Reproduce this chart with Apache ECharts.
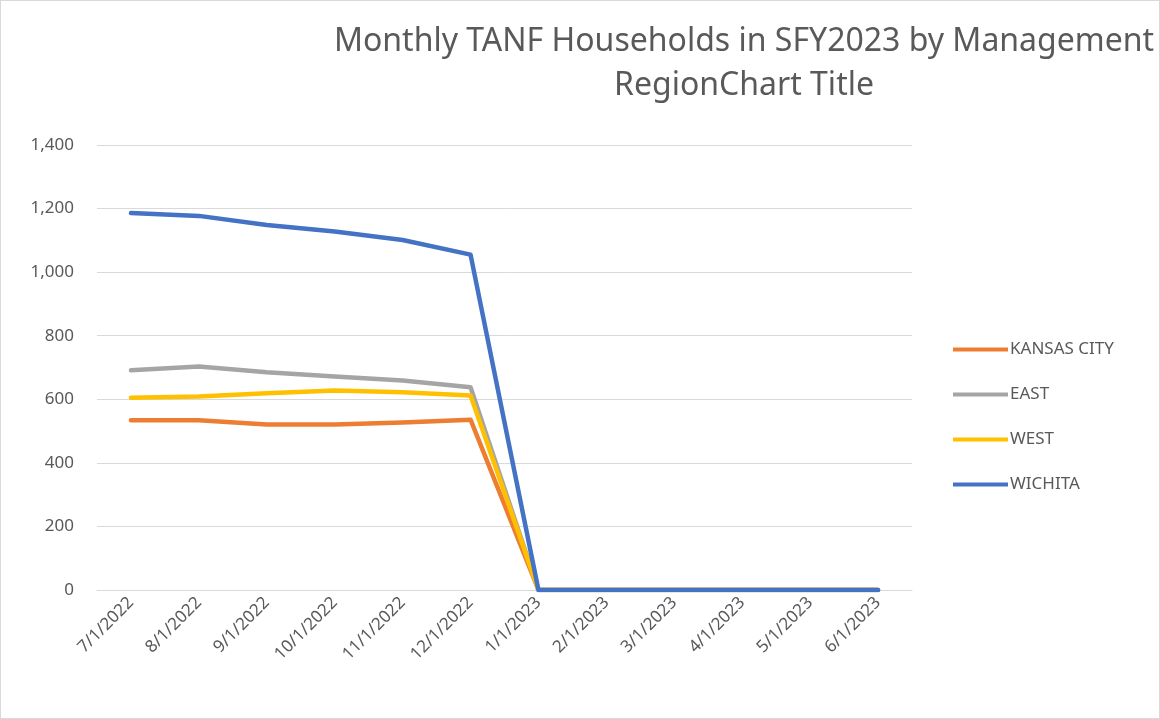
<!DOCTYPE html>
<html><head><meta charset="utf-8">
<script src="https://cdn.jsdelivr.net/npm/echarts@6/dist/echarts.min.js"></script>
<style>html,body{margin:0;padding:0;background:#fff}#c{width:1158px;height:717px;border:1px solid #d9d9d9}</style>
</head><body><div id="c"></div>
<script>
const categories = ['7/1/2022','8/1/2022','9/1/2022','10/1/2022','11/1/2022','12/1/2022','1/1/2023','2/1/2023','3/1/2023','4/1/2023','5/1/2023','6/1/2023'];
const kansasCity = [534, 534, 521, 521, 527, 536, 0, 0, 0, 0, 0, 0];
const east = [691, 703, 685, 672, 659, 638, 0, 0, 0, 0, 0, 0];
const west = [605, 609, 619, 628, 622, 612, 0, 0, 0, 0, 0, 0];
const wichita = [1186, 1177, 1148, 1128, 1101, 1055, 0, 0, 0, 0, 0, 0];
const yTicks = [0, 200, 400, 600, 800, 1000, 1200, 1400];

const font = 'Noto Sans';
const chart = echarts.init(document.getElementById('c'));
const mk = (name, data, color) => ({
  name, type: 'line', data, symbol: 'none', smooth: false,
  lineStyle: { color, width: 4.5, cap: 'round', join: 'round' }, itemStyle: { color }
});
chart.setOption({
  animation: false,
  title: {
    text: 'Monthly TANF Households in SFY2023 by Management\nRegionChart Title',
    left: 738, top: 14, textAlign: 'center',
    textStyle: { fontFamily: font, fontSize: 32, fontWeight: 'normal', color: '#595959', lineHeight: 44 }
  },
  legend: {
    orient: 'vertical', left: 947, top: 334, itemWidth: 55, itemHeight: 4, itemGap: 26, icon: 'rect',
    textStyle: { fontFamily: font, fontSize: 17, color: '#595959', padding: [0, 0, 0, -3], lineHeight: 19 },
    data: ['KANSAS CITY', 'EAST', 'WEST', 'WICHITA']
  },
  grid: { left: 96, right: 247, top: 144, bottom: 128, containLabel: false },
  xAxis: {
    type: 'category', data: categories, boundaryGap: true,
    axisLine: { lineStyle: { color: '#d9d9d9', width: 1 } }, axisTick: { show: false },
    axisLabel: { rotate: 45, fontFamily: font, fontSize: 17, color: '#595959', margin: 10, interval: 0 }
  },
  yAxis: {
    type: 'value', min: yTicks[0], max: yTicks[yTicks.length - 1], interval: 200,
    axisLine: { show: false }, axisTick: { show: false },
    splitLine: { lineStyle: { color: '#d9d9d9', width: 1 } },
    axisLabel: { fontFamily: font, fontSize: 17, color: '#595959', margin: 23,
      formatter: v => v.toLocaleString('en-US') }
  },
  series: [
    mk('KANSAS CITY', kansasCity, '#ED7D31'),
    mk('EAST', east, '#A5A5A5'),
    mk('WEST', west, '#FFC000'),
    mk('WICHITA', wichita, '#4472C4')
  ]
});
</script></body></html>
